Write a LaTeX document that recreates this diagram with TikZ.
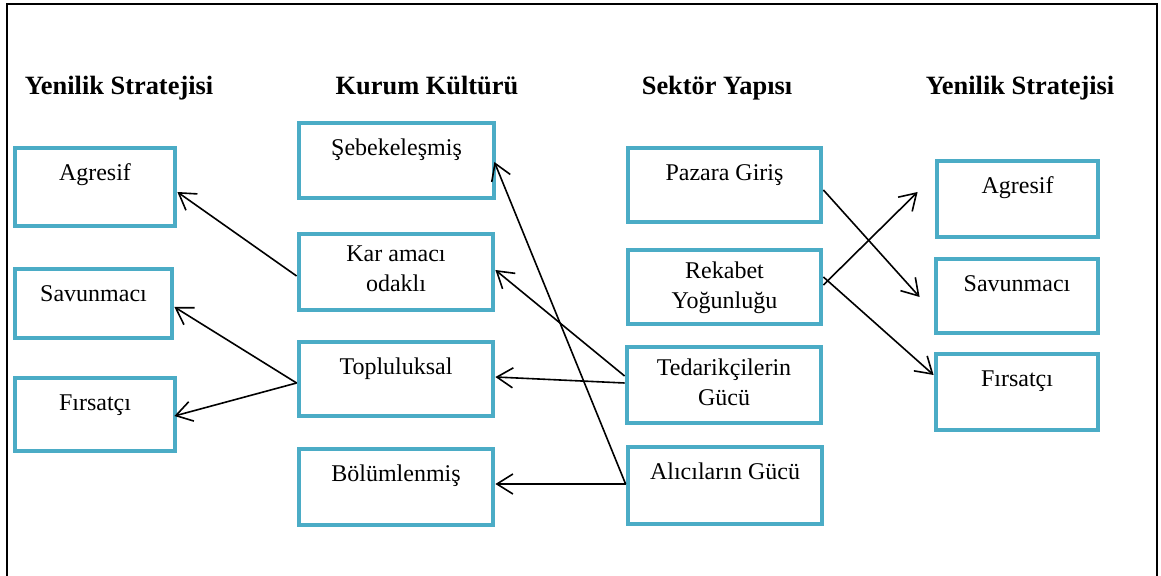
\documentclass[tikz,border=0pt]{standalone}
\usepackage{fontspec}
\setmainfont{Liberation Serif}
\usetikzlibrary{arrows.meta}
\definecolor{kutumavi}{RGB}{75,172,198}

\begin{document}
\begin{tikzpicture}[x=0.5pt,y=-0.5pt,
    kutu/.style={draw=kutumavi, line width=2.4pt, fill=white, inner sep=0pt},
    yazi/.style={anchor=north, yshift=-7pt, align=center, inner sep=0pt,
        font=\fontsize{12}{15}\selectfont, execute at begin node=\strut},
    baslik/.style={anchor=base, inner sep=0pt, font=\fontsize{13.2}{16}\selectfont\bfseries},
    ok/.style={line width=0.8pt, -{Straight Barb[length=8pt,width=10pt]}}]
    \useasboundingbox (0,0) rectangle (1161,576);

    % Frame
    \draw[line width=1pt] (7,576) -- (7,4) -- (1157,4) -- (1157,576);

    % Headings
    \node[baslik] (b1) at (119,95) {Yenilik Stratejisi};
    \node[baslik] (b2) at (427,95) {Kurum Kültürü};
    \node[baslik] (b3) at (717,95) {Sektör Yapısı};
    \node[baslik] (b4) at (1020,95) {Yenilik Stratejisi};

    % Yenilik Stratejisi (left)
    \node[kutu, minimum width=80pt, minimum height=39pt, label={[yazi]north:Agresif}] (agr1) at (95,187) {};
    \node[kutu, minimum width=78.5pt, minimum height=34.5pt, label={[yazi]north:Savunmacı}] (sav1) at (93.5,303.5) {};
    \node[kutu, minimum width=80pt, minimum height=36.5pt, label={[yazi]north:Fırsatçı}] (firs1) at (95,414.5) {};

    % Kurum Kültürü
    \node[kutu, minimum width=97.5pt, minimum height=37.5pt, label={[yazi]north:Şebekeleşmiş}] (sebeke) at (396.5,160.5) {};
    \node[kutu, minimum width=97pt, minimum height=38pt, label={[yazi]north:Kar amacı\\odaklı}] (kar) at (396,272) {};
    \node[kutu, minimum width=97pt, minimum height=37pt, label={[yazi]north:Topluluksal}] (toplu) at (396,379) {};
    \node[kutu, minimum width=97pt, minimum height=38pt, label={[yazi]north:Bölümlenmiş}] (bolum) at (396,487) {};

    % Sektör Yapısı
    \node[kutu, minimum width=96.5pt, minimum height=37pt, label={[yazi]north:Pazara Giriş}] (pazar) at (724.5,185) {};
    \node[kutu, minimum width=96.5pt, minimum height=37pt, label={[yazi]north:Rekabet\\Yoğunluğu}] (rekabet) at (724.5,287) {};
    \node[kutu, minimum width=97pt, minimum height=38pt, label={[yazi]north:Tedarikçilerin\\Gücü}] (ted) at (724,385) {};
    \node[kutu, minimum width=97pt, minimum height=38.5pt, label={[yazi]north:Alıcıların Gücü}] (alici) at (725,485.5) {};

    % Yenilik Stratejisi (right)
    \node[kutu, minimum width=80.5pt, minimum height=38pt, label={[yazi]north:Agresif}] (agr2) at (1017.5,199) {};
    \node[kutu, minimum width=81pt, minimum height=37pt, label={[yazi]north:Savunmacı}] (sav2) at (1017,296) {};
    \node[kutu, minimum width=81pt, minimum height=38pt, label={[yazi]north:Fırsatçı}] (firs2) at (1017,392) {};

    % Arrows
    \draw[ok] ([yshift=-2pt]kar.west) -- ([yshift=-2.5pt]agr1.east);
    \draw[ok] ([yshift=-2pt]toplu.west) -- ([yshift=-1.75pt]sav1.east);
    \draw[ok] ([yshift=-2pt]toplu.west) -- ([xshift=-1.5pt,yshift=-0.75pt]firs1.east);
    \draw[ok] ([yshift=4.5pt]ted.west) -- ([yshift=1pt]kar.east);
    \draw[ok] ([yshift=1pt]ted.west) -- ([yshift=1pt]toplu.east);
    \draw[ok] ([yshift=0.75pt]alici.west) -- ([xshift=-1pt,yshift=-0.75pt]sebeke.east);
    \draw[ok] ([yshift=0.75pt]alici.west) -- ([yshift=1.5pt]bolum.east);
    \draw[ok] ([yshift=-2.5pt]pazar.east) -- ([xshift=-7pt,yshift=-0.5pt]sav2.west);
    \draw[ok] ([yshift=1pt]rekabet.east) -- ([xshift=-8.5pt,yshift=3.5pt]agr2.west);
    \draw[ok] ([yshift=5pt]rekabet.east) -- ([yshift=8.5pt]firs2.west);
\end{tikzpicture}
\end{document}
